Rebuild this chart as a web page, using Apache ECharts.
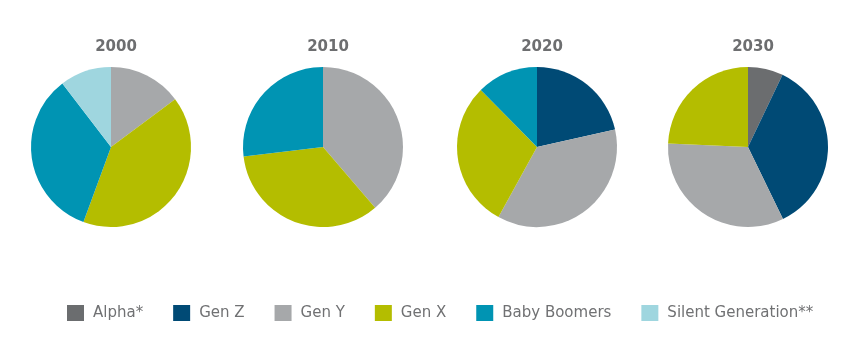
<!DOCTYPE html>
<html><head><meta charset="utf-8">
<script src="https://cdn.jsdelivr.net/npm/echarts@6/dist/echarts.min.js"></script>
<style>html,body{margin:0;padding:0;background:#fff}#c{width:850px;height:339px}</style>
</head><body><div id="c"></div>
<script>
var categories = ['Alpha*', 'Gen Z', 'Gen Y', 'Gen X', 'Baby Boomers', 'Silent Generation**'];
var years = ['2000', '2010', '2020', '2030'];
var values2000 = [0, 0, 14.8, 40.8, 34.0, 10.4];
var values2010 = [0, 0, 38.7, 34.4, 26.9, 0];
var values2020 = [0, 21.5, 36.5, 29.6, 12.4, 0];
var values2030 = [7.1, 35.7, 32.9, 24.3, 0, 0];
var colors = ['#6b6d6f', '#004a75', '#a6a8aa', '#b4bd00', '#0094b3', '#9fd6df'];

var allValues = [values2000, values2010, values2020, values2030];
var centersX = [111, 323, 537, 748];
var chart = echarts.init(document.getElementById('c'));
var series = allValues.map(function (vals, i) {
  var data = [];
  vals.forEach(function (v, j) {
    if (v > 0) data.push({ name: categories[j], value: v, itemStyle: { color: colors[j] } });
  });
  return {
    type: 'pie', center: [centersX[i], 147], radius: [0, 80],
    startAngle: 90, clockwise: true, label: { show: false }, labelLine: { show: false },
    itemStyle: { borderWidth: 0 }, emphasis: { disabled: true }, animation: false,
    data: data
  };
});
var titles = years.map(function (y, i) {
  return { text: y, left: centersX[i], top: 35, textAlign: 'center',
    textStyle: { fontFamily: 'DejaVu Sans', fontWeight: 'bold', fontSize: 15, color: '#6d6e70' } };
});
chart.setOption({
  animation: false,
  color: colors,
  title: titles,
  legend: {
    data: categories.map(function (c, j) { return { name: c, itemStyle: { color: colors[j] } }; }),
    left: 62, top: 300, icon: 'rect', itemWidth: 17, itemHeight: 16, itemGap: 30,
    selectedMode: false,
    textStyle: { fontFamily: 'DejaVu Sans', fontSize: 15, color: '#707173', padding: [0, 0, 0, 4] }
  },
  series: series
});
</script></body></html>
